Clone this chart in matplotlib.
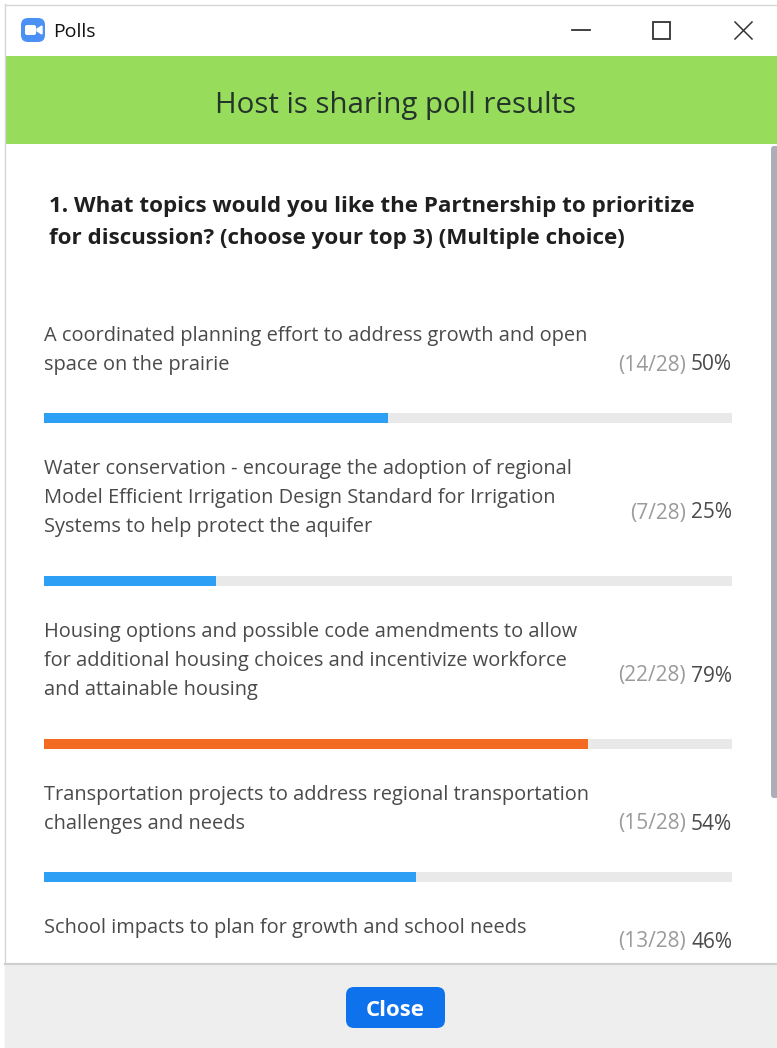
import matplotlib
matplotlib.use("Agg")
import matplotlib.pyplot as plt
from matplotlib.patches import FancyBboxPatch, Rectangle

# Poll data
topics = [
    "A coordinated planning effort to address growth and open\nspace on the prairie",
    "Water conservation - encourage the adoption of regional\nModel Efficient Irrigation Design Standard for Irrigation\nSystems to help protect the aquifer",
    "Housing options and possible code amendments to allow\nfor additional housing choices and incentivize workforce\nand attainable housing",
    "Transportation projects to address regional transportation\nchallenges and needs",
    "School impacts to plan for growth and school needs",
]
counts = [14, 7, 22, 15, 13]
percents = [50, 25, 79, 54, 46]
total = 28
question = "1. What topics would you like the Partnership to prioritize\nfor discussion? (choose your top 3) (Multiple choice)"

W, H = 777, 1048
FONT = "Open Sans"
plt.rcParams["font.family"] = [FONT, "DejaVu Sans"]

# vertical layout of each row, in pixels from the top (text y is the baseline)
text_y = [341, 474, 637, 800, 933]
count_y = [365, 513, 676, 824, 942]
bar_y = [418, 581, 744, 877]

fig = plt.figure(figsize=(W / 100, H / 100), dpi=100, facecolor="white")
ax = fig.add_axes([0, 0, 1, 1])
ax.set_xlim(0, W)
ax.set_ylim(H, 0)
ax.axis("off")

# window frame and header
ax.plot([5, W], [4.5, 4.5], color="#d6d6d6", lw=1)
ax.plot([4.5, 4.5], [4, H], color="#d6d6d6", lw=1)
ax.add_patch(Rectangle((5, 56), W - 5, 88, fc="#98dc5c", ec="none"))
ax.text(396, 106, "Host is sharing poll results", ha="center", va="center", fontsize=21.2, color="#23352a")

# title bar
ax.add_patch(FancyBboxPatch((21, 18), 24, 24, boxstyle="round,pad=0,rounding_size=7", fc="#4a90f5", ec="none"))
ax.add_patch(FancyBboxPatch((25, 25), 11, 10, boxstyle="round,pad=0,rounding_size=2", fc="white", ec="none"))
ax.fill([37, 42, 42, 37], [29, 26, 34, 31], color="white")
ax.text(53, 32, "Polls", ha="left", va="center", fontsize=14, color="#111111")
ax.plot([572, 590], [30, 30], color="#333333", lw=1.3)
ax.add_patch(Rectangle((652.5, 22), 17, 17, fc="none", ec="#333333", lw=1.3))
ax.plot([735, 752], [22, 39], color="#333333", lw=1.1)
ax.plot([735, 752], [39, 22], color="#333333", lw=1.1)

# question, drawn line by line to hold the row pitch
for y, line in zip([212, 244], question.split("\n")):
    ax.text(49, y, line, ha="left", va="baseline", fontsize=16.1, fontweight="bold", color="#1f1f1f")

# answer text
for y0, label in zip(text_y, topics):
    for i, line in enumerate(label.split("\n")):
        ax.text(44.5, y0 + 29 * i, line, ha="left", va="baseline", fontsize=14.4, color="#4a4a4a")
for y, n, pct in zip(count_y, counts, percents):
    ax.text(732, y, f"{pct}%", ha="right", va="center", fontsize=15, color="#4a4a4a")
    ax.text(686, y, f"({n}/{total})", ha="right", va="center", fontsize=15, color="#9a9a9a")

# bars live on their own axes, x measured in percent
bars = fig.add_axes([44 / W, 0, 688 / W, 1])
bars.set_xlim(0, 100)
bars.set_ylim(H, 0)
bars.axis("off")
bars.patch.set_alpha(0)
shown = percents[:len(bar_y)]
bars.barh(bar_y, [100] * len(bar_y), height=10.5, color="#e9e9e9")
colors = ["#f26b21" if p == max(percents) else "#2d9ff5" for p in shown]
bars.barh(bar_y, shown, height=10.5, color=colors)

# scrollbar and footer, drawn above the list
foot = fig.add_axes([0, 0, 1, 1])
foot.set_xlim(0, W)
foot.set_ylim(H, 0)
foot.axis("off")
foot.patch.set_alpha(0)
foot.add_patch(FancyBboxPatch((771, 146), 8, 652, boxstyle="round,pad=0,rounding_size=3", fc="#adadb5", ec="none"))
foot.add_patch(Rectangle((5, 964), W - 5, 84, fc="#eeeeee", ec="none"))
foot.plot([5, W], [963.5, 963.5], color="#cfcfcf", lw=1.5)
foot.add_patch(FancyBboxPatch((346, 987), 99, 41, boxstyle="round,pad=0,rounding_size=8", fc="#0e72ed", ec="none"))
foot.text(395.5, 1011, "Close", ha="center", va="center", fontsize=16, fontweight="bold", color="white")

fig.savefig("out.png", dpi=100)
